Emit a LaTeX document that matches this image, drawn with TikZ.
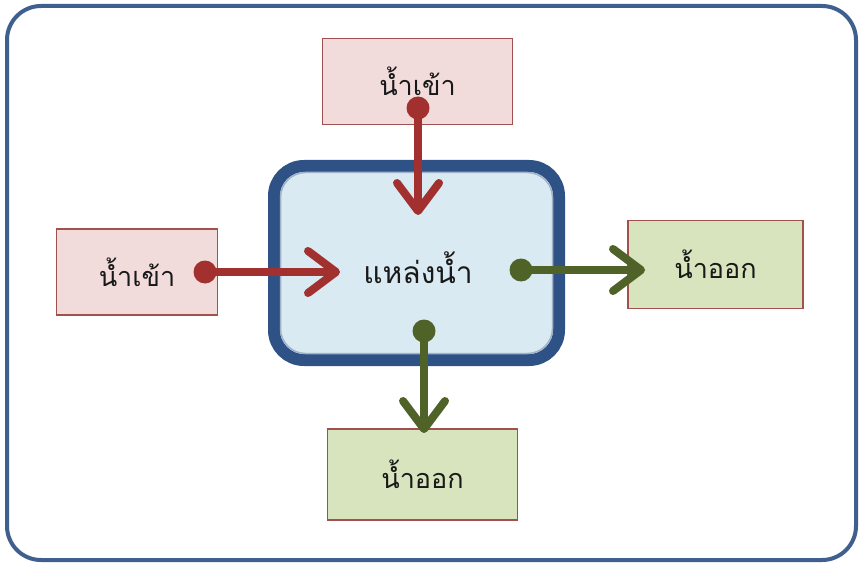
\documentclass[tikz,border=0pt]{standalone}
\usepackage{fontspec}
\usetikzlibrary{arrows.meta}
\newfontfamily\thaifont[Script=Thai]{Loma}
\definecolor{frameblue}{HTML}{3F5F8F}
\definecolor{coreblue}{HTML}{2E5285}
\definecolor{corefill}{HTML}{DAEAF3}
\definecolor{inred}{HTML}{A1302F}
\definecolor{infill}{HTML}{F2DCDB}
\definecolor{inborder}{HTML}{A0504E}
\definecolor{outgreen}{HTML}{4F6228}
\definecolor{outfill}{HTML}{D7E4BD}
\tikzset{
  px/.style={x=1pt,y=-1pt},
  lbl/.style={font=\thaifont\fontsize{27}{30}\selectfont,text=black!90},
  dotin/.style={circle,fill=inred,inner sep=0pt,minimum size=23pt},
  dotout/.style={circle,fill=outgreen,inner sep=0pt,minimum size=23pt},
  flowin/.style={draw=inred,line width=8pt,-{Straight Barb[length=28pt,width=42pt,round]}},
  flowout/.style={draw=outgreen,line width=8pt,-{Straight Barb[length=28pt,width=42pt,round]}},
}
\begin{document}
\begin{tikzpicture}[px]
\useasboundingbox (0,0) rectangle (861,564);
% outer frame
\draw[frameblue,line width=4pt,rounded corners=34pt] (7,6) rectangle (856,560);
% central reservoir
\draw[coreblue,line width=12pt,fill=corefill,rounded corners=30pt] (274,166) rectangle (559,360);
\draw[coreblue!45,line width=1.5pt,rounded corners=25pt] (280.5,172.5) rectangle (552.5,353.5);
\node[font=\thaifont\fontsize{30}{33}\selectfont,text=black!90] (core) at (418,268) {แหล่งน้ำ};
% boxes
\node[draw=inborder,line width=1.2pt,fill=infill,minimum width=190pt,minimum height=86pt,lbl,inner sep=0pt] (top) at (417.5,81.5) {น้ำเข้า};
\node[draw=inborder,line width=1.2pt,fill=infill,minimum width=161pt,minimum height=86pt,lbl,inner sep=0pt] (left) at (137,272) {น้ำเข้า};
\node[draw=inborder,line width=1.2pt,fill=outfill,minimum width=175pt,minimum height=88pt,lbl,inner sep=0pt] (right) at (715.5,264.5) {น้ำออก};
\node[draw=inborder,line width=1.2pt,fill=outfill,minimum width=190pt,minimum height=91pt,lbl,inner sep=0pt] (bottom) at (422.5,474.5) {น้ำออก};
% dots and tips
\node[dotin] (dtop) at (418,108) {};
\node[dotin] (dleft) at (205,272) {};
\node[dotout] (dright) at (521,270) {};
\node[dotout] (dbottom) at (424,331) {};
\coordinate (ttop) at (418,215);
\coordinate (tleft) at (340,272);
\coordinate (tright) at (645,270);
\coordinate (tbottom) at (424,433);
% arrows
\draw[flowin] (dtop.center) -- (ttop);
\draw[flowin] (dleft.center) -- (tleft);
\draw[flowout] (dright.center) -- (tright);
\draw[flowout] (dbottom.center) -- (tbottom);
\end{tikzpicture}
\end{document}
